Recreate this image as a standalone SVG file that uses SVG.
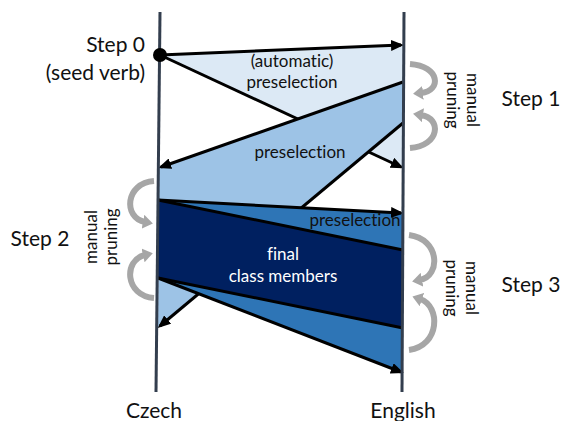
<svg xmlns="http://www.w3.org/2000/svg" width="564" height="421" viewBox="0 0 564 421">
<style>
text{font-family:Lato,"Open Sans","Liberation Sans",sans-serif;fill:#111;font-variant-ligatures:none;}
.lbl{font-size:21px;}
.in{font-size:17px;text-anchor:middle;}
.wt{fill:#fff;}
.rot{font-size:17px;text-anchor:middle;}
.ar{stroke:#000;stroke-width:3;fill:none;marker-end:url(#ah);}
.edge{stroke:#000;stroke-width:3;fill:none;}
.axis{stroke:#333e4e;stroke-width:3;fill:none;}
.curl{stroke:#a6a6a6;stroke-width:6;fill:none;marker-end:url(#gh);}
</style>
<defs>
<marker id="ah" markerUnits="userSpaceOnUse" viewBox="0 0 13 11" markerWidth="13" markerHeight="11" refX="10" refY="5.5" orient="auto">
<path d="M0,0 L13,5.5 L0,11 z" fill="#000"/>
</marker>
<marker id="gh" markerUnits="userSpaceOnUse" viewBox="0 0 10 14" markerWidth="10" markerHeight="14" refX="2" refY="7" orient="auto">
<path d="M0,0 L10,7 L0,14 z" fill="#a6a6a6"/>
</marker>
</defs>

<g id="regions">
<polygon points="160,55 403,45 403,167" fill="#dce9f5"/>
</g>
<g id="connectors-back">
<line class="ar" x1="160" y1="55" x2="401" y2="167"/>
</g>
<g id="region-preselection-1">
<polygon points="403,82 159,167 158,327 403,123" fill="#9dc3e6"/>
</g>
<g id="connectors-mid">
<line class="ar" x1="403" y1="82" x2="161" y2="167"/>
<line class="ar" x1="403" y1="123" x2="160" y2="326"/>
</g>
<g id="region-preselection-2">
<polygon points="158,200 403,213 403,372 158,278" fill="#2e75b6"/>
</g>
<g id="region-final">
<polygon points="158,200 403,250 403,328 158,278" fill="#002060"/>
</g>
<g id="connectors">
<line class="edge" x1="158" y1="200" x2="403" y2="250"/>
<line class="edge" x1="158" y1="278" x2="403" y2="328"/>
<line class="ar" x1="158" y1="200" x2="401" y2="213"/>
<line class="ar" x1="158" y1="278" x2="401" y2="372"/>
<line class="ar" x1="160" y1="55" x2="401" y2="45"/>
<path class="curl" d="M410,64 C440,66 442,91 421,93"/>
<path class="curl" d="M410,148 C440,146 442,118 421,115"/>
<path class="curl" d="M154,181 C125,183 123,218 145,222"/>
<path class="curl" d="M154,298 C125,296 123,260 145,255"/>
<path class="curl" d="M409,235 C440,239 441,276 420,280"/>
<path class="curl" d="M409,350 C440,346 441,306 420,299"/>
</g>
<g id="axis-czech">
<line class="axis" x1="160" y1="12" x2="156" y2="392"/>
<text class="lbl" x="154" y="418" text-anchor="middle">Czech</text>
</g>
<g id="axis-english">
<line class="axis" x1="404" y1="12" x2="402" y2="392"/>
<text class="lbl" x="403" y="418" text-anchor="middle">English</text>
</g>
<g id="step0">
<circle cx="160" cy="55" r="7" fill="#000"/>
<text class="lbl" x="145" y="52" text-anchor="end">Step 0</text>
<text class="lbl" x="145" y="80" text-anchor="end">(seed verb)</text>
</g>
<g id="labels">
<text class="in" x="292" y="67">(automatic)</text>
<text class="in" x="292" y="88">preselection</text>
<text class="in" x="300" y="158">preselection</text>
<text class="in" x="355" y="226">preselection</text>
<text class="in wt" x="283" y="260">final</text>
<text class="in wt" x="283" y="282">class members</text>
</g>
<g id="step1">
<text class="lbl" x="531" y="106" text-anchor="middle">Step 1</text>
<text class="rot" transform="translate(467,100) rotate(90)">manual</text>
<text class="rot" transform="translate(447,100) rotate(90)">pruning</text>
</g>
<g id="step2">
<text class="lbl" x="40" y="246" text-anchor="middle">Step 2</text>
<text class="rot" transform="translate(97,237) rotate(-90)">manual</text>
<text class="rot" transform="translate(117,237) rotate(-90)">pruning</text>
</g>
<g id="step3">
<text class="lbl" x="531" y="292" text-anchor="middle">Step 3</text>
<text class="rot" transform="translate(466,288) rotate(90)">manual</text>
<text class="rot" transform="translate(446,288) rotate(90)">pruning</text>
</g>
</svg>
